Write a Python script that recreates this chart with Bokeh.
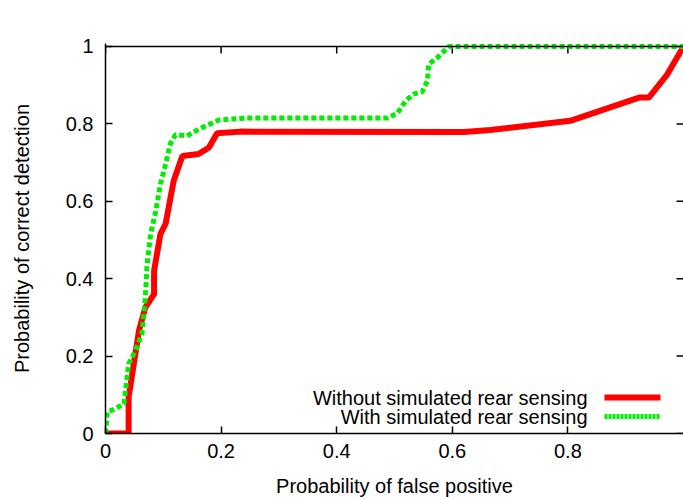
from bokeh.plotting import figure
from bokeh.models import (Range1d, FixedTicker, Label, Arrow, Span)
from bokeh.embed import file_html
from bokeh.resources import INLINE

title_text = "Cut-in prediction for 2 seconds"
x_label = "Probability of false positive"
y_label = "Probability of correct detection"
series_names = ["Without simulated rear sensing", "With simulated rear sensing"]
series_colors = ["#ff0000", "#00ee00"]

x_ticks = [0, 0.2, 0.4, 0.6, 0.8]
y_ticks = [0, 0.2, 0.4, 0.6, 0.8, 1.0]
x_tick_labels = ["0", "0.2", "0.4", "0.6", "0.8"]
y_tick_labels = ["0", "0.2", "0.4", "0.6", "0.8", "1"]

# Without simulated rear sensing
fp_without = [0, 0.040, 0.040, 0.058, 0.069, 0.084, 0.084, 0.095, 0.104, 0.118,
              0.133, 0.161, 0.179, 0.193, 0.233, 0.620, 0.666, 0.804, 0.923,
              0.940, 0.972, 1.0]
tp_without = [0, 0, 0.094, 0.266, 0.326, 0.360, 0.420, 0.515, 0.542, 0.653,
              0.717, 0.722, 0.739, 0.776, 0.780, 0.779, 0.784, 0.808, 0.868,
              0.868, 0.928, 1.0]

# With simulated rear sensing
fp_with = [0, 0.003, 0.017, 0.032, 0.040, 0.052, 0.063, 0.069, 0.072, 0.078,
           0.087, 0.095, 0.104, 0.112, 0.121, 0.141, 0.161, 0.196, 0.242,
           0.487, 0.505, 0.519, 0.533, 0.548, 0.557, 0.559, 0.574, 0.594, 1.0]
tp_with = [0, 0.055, 0.064, 0.077, 0.180, 0.214, 0.257, 0.352, 0.438, 0.515,
           0.575, 0.644, 0.696, 0.748, 0.772, 0.769, 0.786, 0.810, 0.815,
           0.815, 0.827, 0.859, 0.877, 0.883, 0.911, 0.954, 0.971, 1.0, 1.0]

FONT = "Liberation Sans"
FS = "20px"
INK = "black"

p = figure(width=683, height=499, output_backend="svg", toolbar_location=None,
           x_range=Range1d(0, 1.0), y_range=Range1d(0, 1.0077),
           min_border_left=105, min_border_right=0, min_border_top=43,
           min_border_bottom=66)
p.outline_line_color = None
p.grid.visible = False
p.background_fill_color = "white"
p.border_fill_color = "white"

for ax, ticks, labels in ((p.xaxis[0], x_ticks, x_tick_labels),
                          (p.yaxis[0], y_ticks, y_tick_labels)):
    ax.ticker = FixedTicker(ticks=ticks)
    ax.major_label_overrides = {t: s for t, s in zip(ticks, labels)}
    ax.major_tick_in = 7
    ax.major_tick_out = 0
    ax.minor_tick_line_color = None
    ax.axis_line_color = INK
    ax.major_tick_line_color = INK
    ax.axis_line_width = 1.5
    ax.major_tick_line_width = 1.5
    ax.major_label_text_font = FONT
    ax.major_label_text_font_size = FS
    ax.major_label_text_color = INK
    ax.axis_label_text_font = FONT
    ax.axis_label_text_font_size = FS
    ax.axis_label_text_font_style = "normal"
    ax.axis_label_text_color = INK

p.xaxis.axis_label = x_label
p.yaxis.axis_label = y_label
p.xaxis.major_label_standoff = 10
p.xaxis.axis_label_standoff = 14
p.yaxis.major_label_standoff = 12
p.yaxis.axis_label_standoff = 30

# mirrored tick marks on the top and right sides (7 px long, derived from tick lists)
tick_dy = 7 / 387.0
tick_dx = 7 / 578.0
p.segment(x0=x_ticks, y0=[1.0] * len(x_ticks), x1=x_ticks,
          y1=[1.0 - tick_dy] * len(x_ticks), line_color=INK, line_width=1.5)
p.segment(x0=[1.0] * len(y_ticks), y0=y_ticks, x1=[1.0 - tick_dx] * len(y_ticks),
          y1=y_ticks, line_color=INK, line_width=1.5)

p.line(fp_without, tp_without, line_color=series_colors[0], line_width=6)
p.line(fp_with, tp_with, line_color=series_colors[1], line_width=5, line_dash="5 3")

# top border of the plot box at y = 1
p.add_layout(Span(location=1.0, dimension="width", line_color=INK, line_width=1.5))

# title
p.add_layout(Label(x=394, y=17, x_units="canvas", y_units="canvas", text=title_text,
                   text_align="center", text_baseline="middle", text_color=INK,
                   text_font=FONT, text_font_size=FS))

# legend (text on the left, sample on the right)
rows_y = [397, 416]
for name, color, yy, dash, w in zip(series_names, series_colors, rows_y,
                                    ["solid", "3 1"], [6, 5]):
    p.add_layout(Label(x=587, y=yy, x_units="canvas", y_units="canvas", text=name,
                       text_align="right", text_baseline="middle", text_color=INK,
                       text_font=FONT, text_font_size=FS))
    p.add_layout(Arrow(x_start=604, y_start=yy, x_end=660, y_end=yy,
                       start_units="canvas", end_units="canvas", end=None,
                       line_color=color, line_width=w, line_dash=dash))

open("out.html", "w").write(file_html(p, INLINE))
